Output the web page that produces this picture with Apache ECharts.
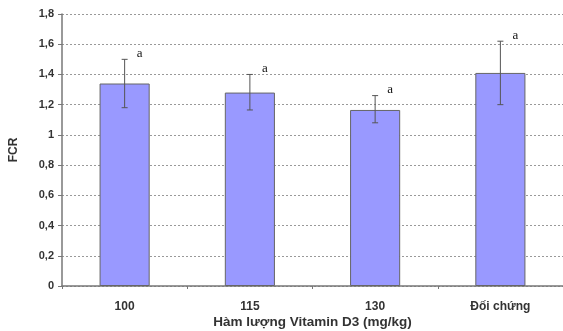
<!DOCTYPE html>
<html><head><meta charset="utf-8">
<script src="https://cdn.jsdelivr.net/npm/echarts@6/dist/echarts.min.js"></script>
<style>html,body{margin:0;padding:0;background:#fff}#c{width:563px;height:331px}</style>
</head><body><div id="c"></div>
<script>
var categories = ['100', '115', '130', 'Đối chứng'];
var fcrMean = [1.34, 1.28, 1.165, 1.41];
var errUpper = [1.50, 1.40, 1.26, 1.62];
var errLower = [1.18, 1.165, 1.08, 1.20];
var sigLetters = ['a', 'a', 'a', 'a'];
var yTicks = [0, 0.2, 0.4, 0.6, 0.8, 1, 1.2, 1.4, 1.6, 1.8];

var chart = echarts.init(document.getElementById('c'));
var errData = categories.map(function (c, i) { return [i, errLower[i], errUpper[i], sigLetters[i]]; });
chart.setOption({
  animation: false,
  textStyle: { fontFamily: 'Liberation Sans, Arial, sans-serif' },
  grid: { left: 62, right: 0, top: 14, bottom: 45, containLabel: false, outerBoundsMode: 'none' },
  xAxis: {
    type: 'category', data: categories, boundaryGap: true,
    axisLine: { lineStyle: { color: '#777', width: 1.5 } },
    axisTick: { show: true, length: 3, lineStyle: { color: '#777' } },
    axisLabel: { color: '#333', fontWeight: 'bold', fontSize: 12, margin: 15 },
    name: 'Hàm lượng Vitamin D3 (mg/kg)', nameLocation: 'middle', nameGap: 29, nameMoveOverlap: false,
    nameTextStyle: { color: '#333', fontWeight: 'bold', fontSize: 13.5 }
  },
  yAxis: {
    type: 'value', min: 0, max: 1.8, interval: 0.2,
    axisLine: { show: true, lineStyle: { color: '#777', width: 1.5 } },
    axisTick: { show: true, length: 4, lineStyle: { color: '#777' } },
    axisLabel: { color: '#333', fontWeight: 'bold', fontSize: 11, margin: 8,
      formatter: function (v) { return (Math.round(v * 10) / 10).toString().replace('.', ','); } },
    splitLine: { show: true, lineStyle: { color: '#999', type: [2, 2], width: 1 } },
    name: 'FCR', nameLocation: 'middle', nameRotate: 90, nameGap: 42, nameMoveOverlap: false,
    nameTextStyle: { color: '#333', fontWeight: 'bold', fontSize: 12 }
  },
  series: [{
    type: 'bar', data: fcrMean, barWidth: '40%',
    itemStyle: { color: '#9999ff', borderColor: '#666', borderWidth: 1 }
  }, {
    type: 'custom', data: errData, z: 10,
    renderItem: function (params, api) {
      var x = api.value(0);
      var lo = api.coord([x, api.value(1)]);
      var hi = api.coord([x, api.value(2)]);
      var cw = 3;
      var st = { stroke: '#555', lineWidth: 1 };
      return { type: 'group', children: [
        { type: 'line', shape: { x1: hi[0], y1: hi[1], x2: lo[0], y2: lo[1] }, style: st },
        { type: 'line', shape: { x1: hi[0] - cw, y1: hi[1], x2: hi[0] + cw, y2: hi[1] }, style: st },
        { type: 'line', shape: { x1: lo[0] - cw, y1: lo[1], x2: lo[0] + cw, y2: lo[1] }, style: st },
        { type: 'text', style: { text: api.value(3), x: hi[0] + 15, y: hi[1] - 6, textAlign: 'center', textVerticalAlign: 'middle',
          font: '13px "Liberation Serif", "Times New Roman", serif', fill: '#111' } }
      ] };
    }
  }]
});
</script></body></html>
